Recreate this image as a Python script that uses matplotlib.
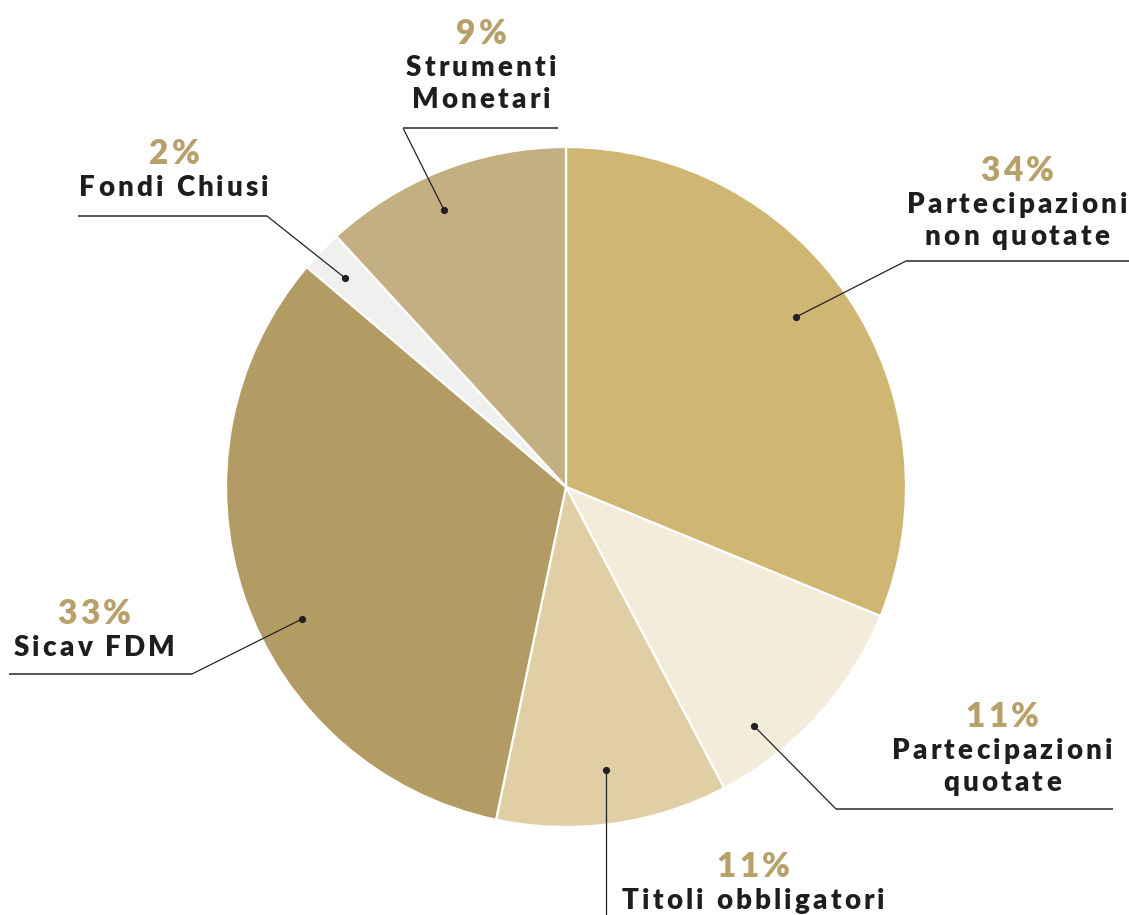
import matplotlib
matplotlib.use("Agg")
import matplotlib.pyplot as plt
from matplotlib.font_manager import FontProperties, findfont
from matplotlib.ft2font import FT2Font

# ---------------- data ----------------
categories = ["Partecipazioni\nnon quotate", "Partecipazioni\nquotate", "Titoli obbligatori",
              "Sicav FDM", "Fondi Chiusi", "Strumenti\nMonetari"]
slice_values = [31.2, 11.1, 11.0, 32.9, 2.0, 11.8]     # angular share as drawn
pct_labels = ["34%", "11%", "11%", "33%", "2%", "9%"]   # printed labels
colors = ["#CFB673", "#F3ECDA", "#E0CFA4", "#B39B64", "#F0F0EE", "#C4AF83"]

# ---------------- layout (pixels, y from top) ----------------
W, H, DPI = 1129, 915, 100
CX, CY, R = 566, 487, 340
# label centre x, percent baseline y
label_pos = [(1017, 181), (1002, 727), (753, 877), (94, 624), (174, 164), (481, 44)]
# leader: dot, elbow, horizontal end (None -> straight)
leaders = [
    [(796, 317), (906, 261), (1129, 261)],
    [(754, 726), (836, 809), (1113, 809)],
    [(606, 770), (606, 915), None],
    [(302, 619), (192, 674), (9, 674)],
    [(345, 278), (267, 216), (78, 216)],
    [(444, 210), (403, 128), (558, 128)],
]

PCT_COLOR = "#B8A06A"
TXT_COLOR = "#1E1E1E"
PCT_SIZE = 24.0
LBL_SIZE = 20.0
LINE_STEP = 32

fig = plt.figure(figsize=(W / DPI, H / DPI), dpi=DPI)
ax = fig.add_axes([0, 0, 1, 1])

def fy(y):
    return H - y

ax.pie(slice_values, colors=colors, startangle=90, counterclock=False,
       center=(CX, fy(CY)), radius=R,
       wedgeprops=dict(edgecolor="white", linewidth=1.6))

ax.set_xlim(0, W)
ax.set_ylim(0, H)
ax.set_aspect("equal")
ax.axis("off")

fp_lbl = FontProperties(family="Lato", weight=800)
fp_pct = FontProperties(family="Lato", weight=800)

_fonts = {}
def advances(text, fp, size):
    path = findfont(fp)
    f = _fonts.get(path)
    if f is None:
        f = FT2Font(path)
        _fonts[path] = f
    f.set_size(size, DPI)
    out = []
    for ch in text:
        g = f.load_char(ord(ch))
        out.append(g.linearHoriAdvance / 65536.0)
    return out

def tracked(xc, ybase, text, fp, size, color, track_em):
    adv = advances(text, fp, size)
    sp = track_em * size * DPI / 72.0
    total = sum(adv) + sp * (len(text) - 1)
    x = xc - total / 2.0
    for ch, a in zip(text, adv):
        if ch != " ":
            ax.text(x, fy(ybase), ch, fontproperties=fp, fontsize=size,
                    color=color, ha="left", va="baseline")
        x += a + sp

for cat, pct, (xc, yb) in zip(categories, pct_labels, label_pos):
    tracked(xc, yb, pct, fp_pct, PCT_SIZE, PCT_COLOR, 0.11)
    for i, line in enumerate(cat.split("\n")):
        tracked(xc, yb + LINE_STEP * (i + 1), line, fp_lbl, LBL_SIZE, TXT_COLOR, 0.115)

for dot, elbow, end in leaders:
    ax.plot([dot[0], elbow[0]], [fy(dot[1]), fy(elbow[1])], color="#222222", lw=0.9,
            solid_capstyle="butt")
    if end is not None:
        ax.plot([elbow[0], end[0]], [fy(elbow[1]), fy(end[1])], color="#555555", lw=1.4,
                solid_capstyle="butt")
    ax.plot([dot[0]], [fy(dot[1])], "o", color="#222222", markersize=4.2)

fig.savefig("out.png", dpi=DPI)
